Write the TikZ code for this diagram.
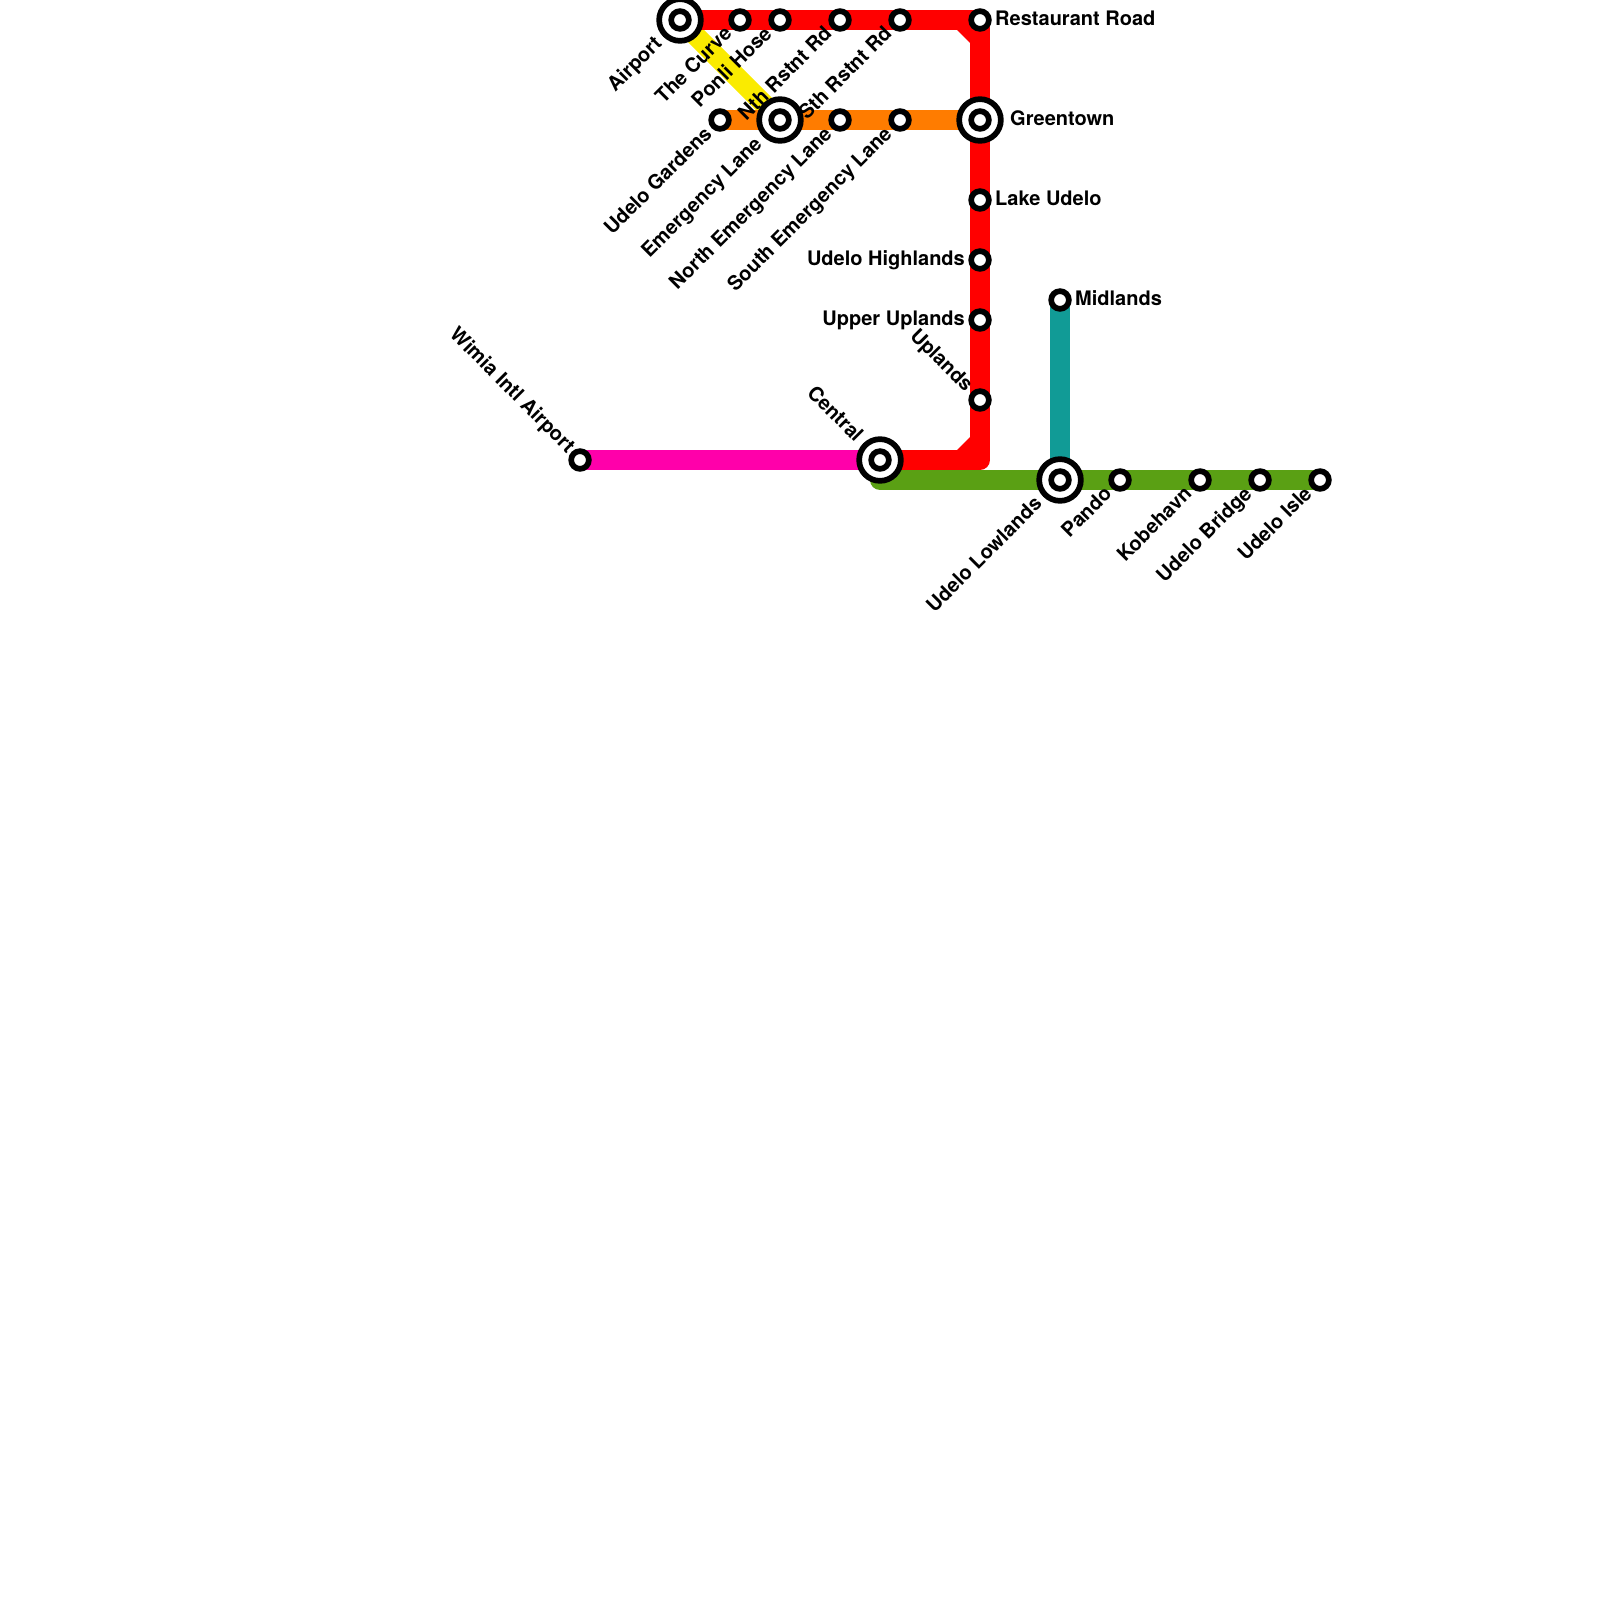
\documentclass[tikz,border=0pt]{standalone}
\usepackage{fontspec}
\setmainfont{TeX Gyre Heros}
\tikzset{
  x=1pt,y=-1pt,
  route/.style={line width=20pt,line cap=round,line join=round},
  stn/.style={circle,draw=black,fill=white,line width=5.7pt,minimum size=17.7pt,inner sep=0pt,outer sep=0pt},
  hub/.style={circle,draw=black,fill=white,line width=5.7pt,minimum size=41.7pt,inner sep=0pt,outer sep=0pt},
  lbl/.style={font=\fontsize{20}{22}\selectfont\bfseries,inner sep=0pt,text=black},
  ne/.style={lbl,anchor=base east,rotate=45},
  se/.style={lbl,anchor=base east,rotate=-45},
  tl/.style={lbl,anchor=base east},
  tr/.style={lbl,anchor=base west}
}
\begin{document}
\begin{tikzpicture}
\useasboundingbox (0,0) rectangle (1600,1600);
\coordinate (airport) at (680,20);
\coordinate (curve) at (740,20);
\coordinate (ponli) at (780,20);
\coordinate (nth) at (840,20);
\coordinate (sth) at (900,20);
\coordinate (rest) at (980,20);
\coordinate (gard) at (720,120);
\coordinate (emer) at (780,120);
\coordinate (nem) at (840,120);
\coordinate (sem) at (900,120);
\coordinate (green) at (980,120);
\coordinate (lake) at (980,200);
\coordinate (high) at (980,260);
\coordinate (upper) at (980,320);
\coordinate (upl) at (980,400);
\coordinate (central) at (880,460);
\coordinate (wimia) at (580,460);
\coordinate (low) at (1060,480);
\coordinate (mid) at (1060,300);
\coordinate (pando) at (1120,480);
\coordinate (kobe) at (1200,480);
\coordinate (bridge) at (1260,480);
\coordinate (isle) at (1320,480);
% lines
\draw[route,color={rgb,255:red,250;green,235;blue,0}] (airport) -- (emer);
\draw[route,color={rgb,255:red,255;green,124;blue,0}] (gard) -- (green);
\draw[route,color={rgb,255:red,255;green,0;blue,170}] (wimia) -- (central);
\draw[route,color={rgb,255:red,17;green,155;blue,150}] (mid) -- (low);
\draw[route,color={rgb,255:red,90;green,160;blue,20}] (central |- low) -- (isle);
\fill[red] (957,30) -- (970,30) -- (970,43) -- cycle;
\fill[red] (957,450) -- (970,450) -- (970,437) -- cycle;
\draw[route,color=red,line cap=butt] (airport) -- (rest |- airport) -- (upl);
\draw[route,color=red] (central) -- (rest |- central) -- (upl);
% stations
\foreach \n in {curve,ponli,nth,sth,rest,gard,nem,sem,lake,high,upper,upl,wimia,mid,pando,kobe,bridge,isle}
  \node[stn] (s\n) at (\n) {};
\foreach \n in {airport,emer,green,central,low}{
  \node[hub] (h\n) at (\n) {};
  \node[stn] (i\n) at (\n) {};
}
% labels
\node[ne] at (663,45) {Airport};
\node[ne] at (733,35) {The Curve};
\node[ne] at (773,35) {Ponli Hose};
\node[ne] at (833,35) {Nth Rstnt Rd};
\node[ne] at (893,35) {Sth Rstnt Rd};
\node[ne] at (713,135) {Udelo Gardens};
\node[ne] at (763,145) {Emergency Lane};
\node[ne] at (833,135) {North Emergency Lane};
\node[ne] at (893,135) {South Emergency Lane};
\node[ne] at (1043,505) {Udelo Lowlands};
\node[ne] at (1113,495) {Pando};
\node[ne] at (1193,495) {Kobehavn};
\node[ne] at (1253,495) {Udelo Bridge};
\node[ne] at (1313,495) {Udelo Isle};
\node[se] at (567,454) {Wimia Intl Airport};
\node[se] at (855,443) {Central};
\node[se] at (965,393) {Uplands};
\node[tr] at (995,26) {Restaurant Road};
\node[tr] at (1010,125) {Greentown};
\node[tr] at (995,205) {Lake Udelo};
\node[tr] at (1075,305) {Midlands};
\node[tl] at (965,265) {Udelo Highlands};
\node[tl] at (965,325) {Upper Uplands};
\end{tikzpicture}
\end{document}
